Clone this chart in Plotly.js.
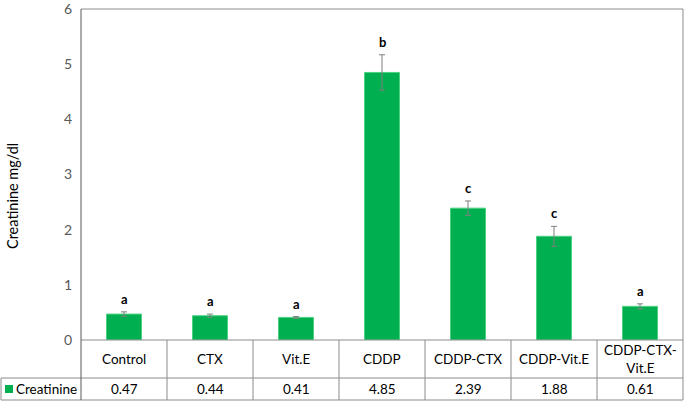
<!DOCTYPE html>
<html>
<head>
<meta charset="utf-8">
<script src="https://cdn.plot.ly/plotly-3.0.1.min.js"></script>
<style>html,body{margin:0;padding:0;background:#fff;}#chart{width:685px;height:402px;}</style>
</head>
<body>
<div id="chart"></div>
<script>
const categories = ["Control", "CTX", "Vit.E", "CDDP", "CDDP-CTX", "CDDP-Vit.E", "CDDP-CTX-Vit.E"];
const categoryLabels = ["Control", "CTX", "Vit.E", "CDDP", "CDDP-CTX", "CDDP-Vit.E", "CDDP-CTX-<br>Vit.E"];
const creatinine = [0.47, 0.44, 0.41, 4.85, 2.39, 1.88, 0.61];
const errors = [0.04, 0.03, 0.015, 0.32, 0.13, 0.18, 0.045];
const letters = ["a", "a", "a", "b", "c", "c", "a"];
const seriesName = "Creatinine";
const yTicks = [0, 1, 2, 3, 4, 5, 6];

const FONT = "Lato, 'Open Sans', sans-serif";
const GREEN = "#00B050";
const GRID = "#8c8c8c";

const W = 685, H = 402;
const mL = 81, mR = 2, mT = 9, mB = 62;
const plotW = W - mL - mR, plotH = H - mT - mB;
const py = (pix) => (H - mB - pix) / plotH;
const px = (pix) => (pix - mL) / plotW;

const trace = {
  type: "bar",
  x: categories,
  y: creatinine,
  name: seriesName,
  marker: { color: GREEN, line: { color: "#4fd184", width: 1 } },
  error_y: { type: "data", array: errors, visible: true, color: "#7f7f7f", thickness: 1, width: 3 },
  hoverinfo: "x+y",
  showlegend: false
};

const annotations = [];
const shapes = [];
const n = categories.length;

categories.forEach((c, i) => {
  annotations.push({
    x: c, y: creatinine[i] + errors[i], xref: "x", yref: "y",
    text: "<b>" + letters[i] + "</b>", showarrow: false,
    yanchor: "bottom", yshift: 3,
    font: { family: FONT, size: 13, color: "#000" }
  });
  annotations.push({
    x: c, y: py(359), xref: "x", yref: "paper",
    text: categoryLabels[i], showarrow: false,
    yanchor: "middle", xanchor: "center",
    font: { family: FONT, size: 13.5, color: "#000" }
  });
  annotations.push({
    x: c, y: py(389), xref: "x", yref: "paper",
    text: creatinine[i].toFixed(2), showarrow: false,
    yanchor: "middle", xanchor: "center",
    font: { family: FONT, size: 13.5, color: "#000" }
  });
});

annotations.push({
  x: px(16), y: py(389), xref: "paper", yref: "paper",
  text: seriesName, showarrow: false, xanchor: "left", yanchor: "middle", xshift: -2,
  font: { family: FONT, size: 13.5, color: "#000" }
});
shapes.push({ type: "rect", xref: "paper", yref: "paper",
  x0: px(5), x1: px(13), y0: py(385), y1: py(393),
  fillcolor: GREEN, line: { width: 0 } });

annotations.push({
  x: px(12), y: py(196), xref: "paper", yref: "paper",
  text: "Creatinine mg/dl", showarrow: false, textangle: -90,
  xanchor: "center", yanchor: "middle",
  font: { family: FONT, size: 14.5, color: "#000" }
});

const cellW = plotW / n;
const line = (x0, y0, x1, y1, color) => shapes.push({
  type: "line", xref: "paper", yref: "paper",
  x0: px(x0), x1: px(x1), y0: py(y0), y1: py(y1),
  line: { color: color || GRID, width: 1 }
});
line(mL, 340, W - mR, 340);
line(1, 378, W - mR, 378);
line(1, 400, W - mR, 400);
line(1, 378, 1, 400);
line(mL, mT, W - mR, mT);
line(W - mR, mT, W - mR, 400);
line(mL, mT, mL, 400, "#595959");
for (let i = 1; i < n; i++) {
  const xx = mL + i * cellW;
  line(xx, 340, xx, 400);
}

const layout = {
  width: W, height: H,
  margin: { l: mL, r: mR, t: mT, b: mB, pad: 0 },
  paper_bgcolor: "#fff", plot_bgcolor: "#fff",
  bargap: 0.593,
  font: { family: FONT },
  xaxis: {
    type: "category", categoryarray: categories, showticklabels: false,
    showgrid: false, zeroline: false, showline: false, ticks: "", fixedrange: true
  },
  yaxis: {
    range: [0, 6], tickvals: yTicks, showgrid: false, zeroline: false, showline: false,
    ticks: "outside", ticklen: 5, tickcolor: "rgba(0,0,0,0)",
    ticklabeloverflow: "allow",
    tickfont: { family: FONT, size: 14, color: "#595959" }, fixedrange: true
  },
  annotations: annotations,
  shapes: shapes
};

Plotly.newPlot("chart", [trace], layout, { displayModeBar: false, staticPlot: true });
</script>
</body>
</html>
